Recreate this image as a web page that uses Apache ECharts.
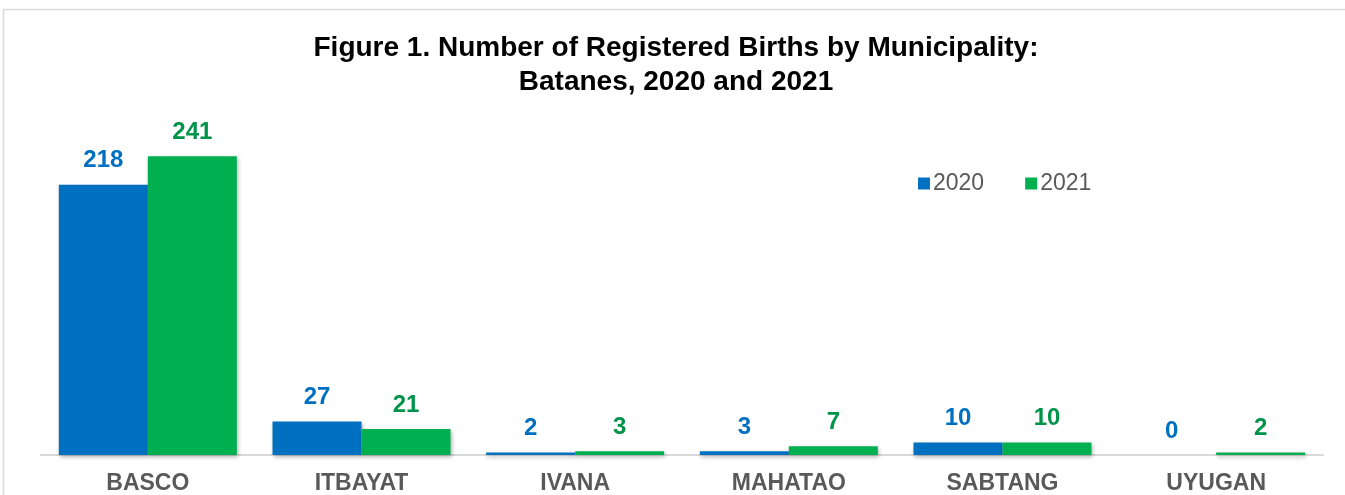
<!DOCTYPE html>
<html>
<head>
<meta charset="utf-8">
<script src="https://cdn.jsdelivr.net/npm/echarts@6/dist/echarts.min.js"></script>
<style>
  html, body { margin: 0; padding: 0; background: #fff; }
  #chart { width: 1345px; height: 495px; }
</style>
</head>
<body>
<div id="chart"></div>
<script>
const municipalities = ['BASCO', 'ITBAYAT', 'IVANA', 'MAHATAO', 'SABTANG', 'UYUGAN']
const births2020 = [218, 27, 2, 3, 10, 0]
const births2021 = [241, 21, 3, 7, 10, 2]

const FONT = '"Liberation Sans", Arial, sans-serif'
const BLUE = '#0070C0'
const GREEN = '#00B050'

const chart = echarts.init(document.getElementById('chart'))

const barShadow = {
  shadowBlur: 4,
  shadowColor: 'rgba(0, 0, 0, 0.3)',
  shadowOffsetX: 1,
  shadowOffsetY: 2,
}

chart.setOption({
  animation: false,
  backgroundColor: '#fff',
  textStyle: { fontFamily: FONT },
  graphic: [
    {
      type: 'rect',
      shape: { x: 3.5, y: 9.5, width: 1400, height: 600 },
      style: { fill: 'none', stroke: '#D9D9D9', lineWidth: 1.5 },
      z: 0,
    },
  ],
  title: {
    text: 'Figure 1. Number of Registered Births by Municipality:\nBatanes, 2020 and 2021',
    left: 671,
    top: 26,
    textAlign: 'center',
    textStyle: {
      fontFamily: FONT,
      fontWeight: 'bold',
      fontSize: 28,
      lineHeight: 34,
      color: '#000',
    },
  },
  legend: {
    data: ['2020', '2021'],
    left: 913,
    top: 167,
    icon: 'rect',
    itemWidth: 12,
    itemHeight: 12,
    itemGap: 41,
    textStyle: { fontFamily: FONT, fontSize: 23, color: '#595959', padding: [0, 0, 0, -2] },
  },
  grid: { left: 41, right: 22, top: 83, bottom: 40, containLabel: false },
  xAxis: {
    type: 'category',
    data: municipalities,
    axisLine: { lineStyle: { color: '#D9D9D9', width: 2 } },
    axisTick: { show: false },
    axisLabel: {
      fontFamily: FONT,
      fontWeight: 'bold',
      fontSize: 23,
      color: '#595959',
      margin: 17,
    },
  },
  yAxis: {
    type: 'value',
    min: 0,
    max: 300,
    show: false,
    splitLine: { show: false },
  },
  series: [
    {
      name: '2020',
      type: 'bar',
      data: births2020,
      barWidth: 89,
      barGap: '0%',
      itemStyle: { color: BLUE, ...barShadow },
      label: {
        show: true,
        position: 'top',
        distance: 12,
        fontFamily: FONT,
        fontWeight: 'bold',
        fontSize: 24,
        color: BLUE,
      },
    },
    {
      name: '2021',
      type: 'bar',
      data: births2021,
      barWidth: 89,
      barGap: '0%',
      itemStyle: { color: GREEN, ...barShadow },
      label: {
        show: true,
        position: 'top',
        distance: 12,
        fontFamily: FONT,
        fontWeight: 'bold',
        fontSize: 24,
        color: '#00934A',
      },
    },
  ],
})
</script>
</body>
</html>
